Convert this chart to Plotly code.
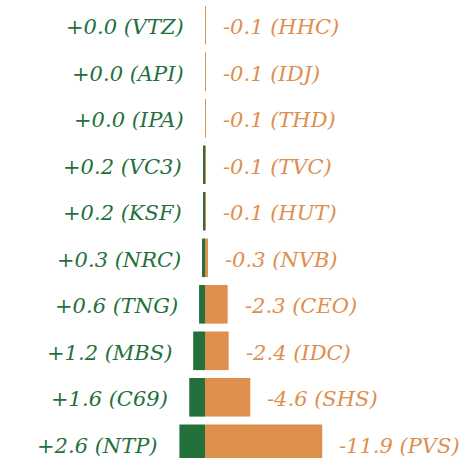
import plotly.graph_objects as go

gain_codes = ["VTZ", "API", "IPA", "VC3", "KSF", "NRC", "TNG", "MBS", "C69", "NTP"]
gain_values = [0.0, 0.0, 0.0, 0.2, 0.2, 0.3, 0.6, 1.2, 1.6, 2.6]
loss_codes = ["HHC", "IDJ", "THD", "TVC", "HUT", "NVB", "CEO", "IDC", "SHS", "PVS"]
loss_values = [-0.1, -0.1, -0.1, -0.1, -0.1, -0.3, -2.3, -2.4, -4.6, -11.9]

GREEN = "#23703B"
ORANGE = "#DE8E4D"
FONT = "DejaVu Serif"

rows = list(range(len(gain_codes)))

fig = go.Figure()
fig.add_trace(go.Bar(
    y=rows, x=[-v for v in gain_values], orientation="h", base=0,
    marker=dict(color=GREEN, line=dict(width=0)),
    width=0.83, hoverinfo="skip",
))
fig.add_trace(go.Bar(
    y=rows, x=[-v for v in loss_values], orientation="h", base=0,
    marker=dict(color=ORANGE, line=dict(width=0)),
    width=0.83, hoverinfo="skip",
))

annotations = []
for i, (c, v) in enumerate(zip(gain_codes, gain_values)):
    annotations.append(dict(
        x=-v, y=i, xref="x", yref="y", text=f"+{v:.1f} ({c})",
        showarrow=False, xanchor="right", yanchor="middle", xshift=-19, yshift=-2,
        font=dict(family=FONT, size=21, color=GREEN, style="italic"),
    ))
for i, (c, v) in enumerate(zip(loss_codes, loss_values)):
    annotations.append(dict(
        x=-v, y=i, xref="x", yref="y", text=f"{v:.1f} ({c})",
        showarrow=False, xanchor="left", yanchor="middle", xshift=15, yshift=-2,
        font=dict(family=FONT, size=21, color=ORANGE, style="italic"),
    ))

fig.update_layout(
    width=469, height=458,
    margin=dict(l=0, r=0, t=0, b=0),
    paper_bgcolor="white", plot_bgcolor="white",
    barmode="overlay", showlegend=False,
    annotations=annotations,
    xaxis=dict(range=[-20.81, 26.80], visible=False, fixedrange=True),
    yaxis=dict(range=[9.305, -0.544], visible=False, fixedrange=True),
)

fig.write_html("out.html", config={"displayModeBar": False},
               post_script="document.body.style.margin='0';document.body.style.overflow='hidden';")
